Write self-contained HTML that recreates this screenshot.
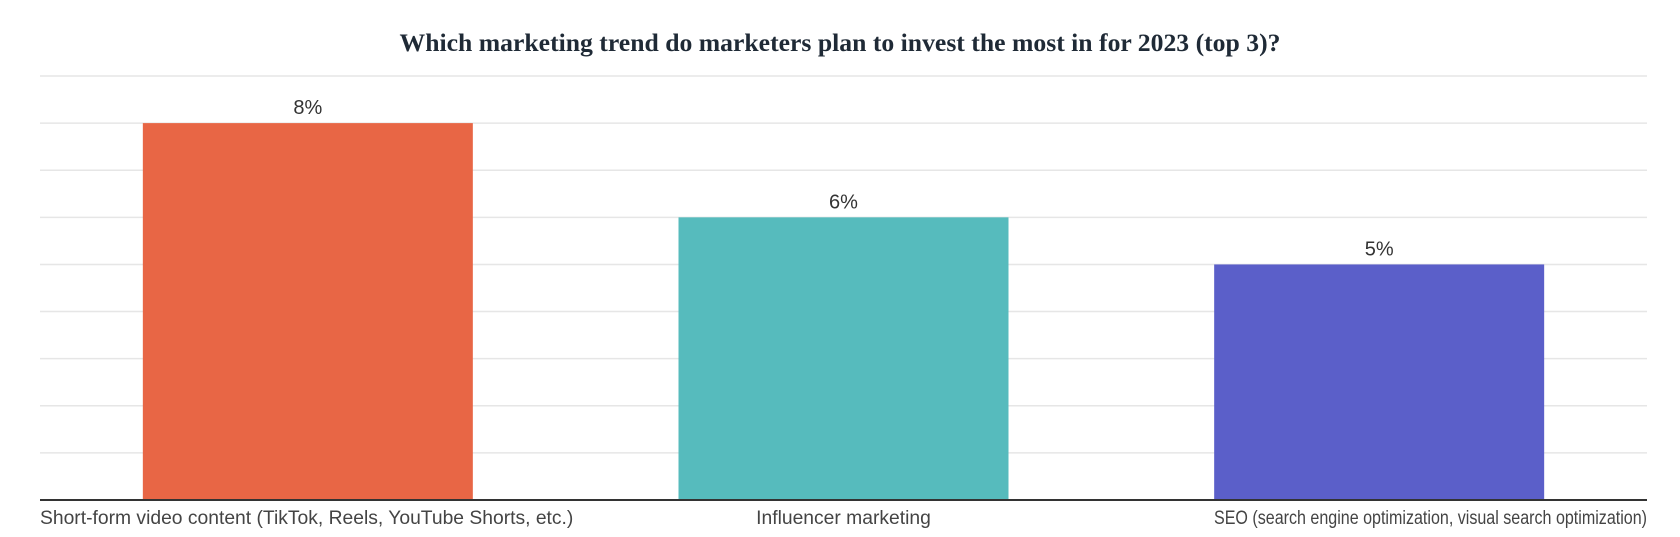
<!DOCTYPE html>
<html><head><meta charset="utf-8"><style>
body{margin:0;background:#fff;width:1680px;height:537px;overflow:hidden}
svg{display:block}
</style></head><body>
<svg id="chart" width="1680" height="537" xmlns="http://www.w3.org/2000/svg">
<text x="840" y="51" text-anchor="middle" font-family="Liberation Serif, serif" font-weight="bold" font-size="25.7" fill="#1f2a36">Which marketing trend do marketers plan to invest the most in for 2023 (top 3)?</text>
<g id="grid"></g><g id="bars"></g><g id="labels"></g>
</svg>
<script>
const categories=["Short-form video content (TikTok, Reels, YouTube Shorts, etc.)","Influencer marketing","SEO (search engine optimization, visual search optimization)"];
const values=[8,6,5];
const valueLabels=["8%","6%","5%"];
const colors=["#E86645","#56BBBD","#5B5FC9"];
const gridTicks=[1,2,3,4,5,6,7,8,9];
const NS="http://www.w3.org/2000/svg";
const left=40,right=1647,base=500,top9=76,yMax=9;
const y=v=>base-(base-top9)*v/yMax;
const band=(right-left)/categories.length;
const xc=i=>left+band*(i+0.5);
const bw=330;
function mk(t,a){const e=document.createElementNS(NS,t);for(const k in a)e.setAttribute(k,a[k]);return e;}
const g=document.getElementById('grid');
gridTicks.forEach(t=>{const l=mk('line',{x1:left,x2:right,y1:y(t),y2:y(t),stroke:'#e6e6e6','stroke-width':1.5});


g.appendChild(l);});
const bg=document.getElementById('bars'),lg=document.getElementById('labels');
values.forEach((v,i)=>{
const r=mk('rect',{x:xc(i)-bw/2,y:y(v),width:bw,height:base-y(v),fill:colors[i]});


bg.appendChild(r);
const t=mk('text',{x:xc(i),y:y(v)-9,'text-anchor':'middle','font-family':'Liberation Sans, sans-serif','font-size':20,fill:'#333'});
t.textContent=valueLabels[i];


lg.appendChild(t);
let anchor='middle',x=xc(i);
if(i===0){anchor='start';x=left;}
if(i===categories.length-1){anchor='end';x=right;}
const c=mk('text',{x:x,y:524,'text-anchor':anchor,'font-family':'Liberation Sans, sans-serif','font-size':19.3,fill:'#444'});
if(i===categories.length-1){c.setAttribute('textLength',433);c.setAttribute('lengthAdjust','spacingAndGlyphs');}
c.textContent=categories[i];


lg.appendChild(c);
});
const ax=mk('line',{x1:left,x2:right,y1:base,y2:base,stroke:'#333','stroke-width':2});


lg.appendChild(ax);
</script>
</body></html>
